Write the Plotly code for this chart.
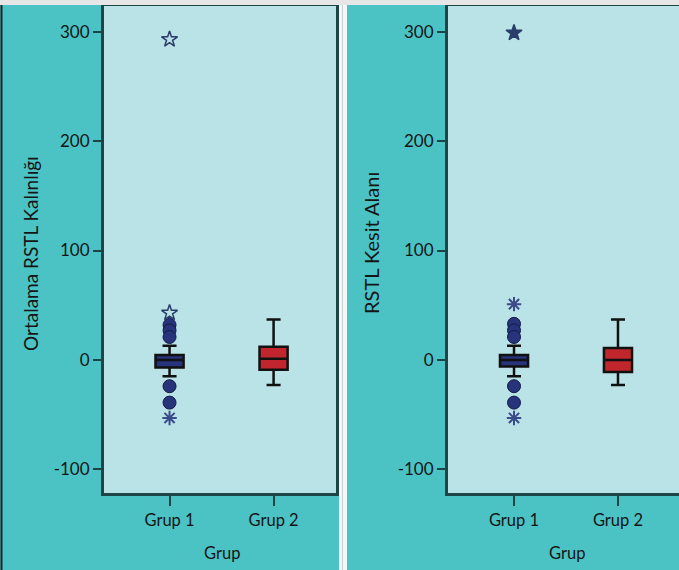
import plotly.graph_objects as go

W, H = 679, 570

groups = ["Grup 1", "Grup 2"]

# Left panel: Ortalama RSTL Kalınlığı
left_q1 = [-7, -9]
left_median = [0, 1]
left_q3 = [4.5, 12]
left_low = [-15, -23]
left_high = [13, 37]
left_circles = [32, 27, 21, -24, -39]
left_stars = [293, 43]
left_asterisks = [-53]

# Right panel: RSTL Kesit Alanı
right_q1 = [-6, -11]
right_median = [0, 0]
right_q3 = [4.5, 11]
right_low = [-15, -23]
right_high = [13, 37]
right_circles = [33, 27, 21, -24, -39]
right_stars = [299]
right_asterisks = [51, -53]

y_tickvals = [-100, 0, 100, 200, 300]
y_ticktext = ["-100", "0", "100", "200", "300"]

TEAL = "#4bc3c5"
PLOT_BG = "#b9e3e6"
AXIS = "#1d4447"
NAVY = "#27337a"
NAVY_DARK = "#141b45"
RED = "#c1262c"
TXT = "#151515"
FONT = "Lato"

fig = go.Figure()

box_colors = [NAVY, RED]


def add_panel(q1, med, q3, lo, hi, circles, stars, asterisks, xa, ya, star_filled):
    for i, g in enumerate(groups):
        fig.add_trace(go.Box(
            x=[g], q1=[q1[i]], median=[med[i]], q3=[q3[i]],
            lowerfence=[lo[i]], upperfence=[hi[i]],
            fillcolor=box_colors[i], line=dict(color="#111111", width=2.5),
            width=0.27, whiskerwidth=0.5, boxpoints=False,
            xaxis=xa, yaxis=ya, showlegend=False))
    fig.add_trace(go.Scatter(
        x=[groups[0]] * len(circles), y=circles, mode="markers",
        marker=dict(symbol="circle", size=13, color=NAVY,
                    line=dict(color=NAVY_DARK, width=1)),
        xaxis=xa, yaxis=ya, showlegend=False))
    fig.add_trace(go.Scatter(
        x=[groups[0]] * len(stars), y=stars, mode="markers",
        marker=dict(symbol="star" if star_filled else "star-open", size=12,
                    color="#2a3d6a", line=dict(color="#2a3d6a", width=1.5)),
        xaxis=xa, yaxis=ya, showlegend=False))
    fig.add_trace(go.Scatter(
        x=[groups[0]] * len(asterisks), y=asterisks, mode="markers",
        marker=dict(symbol="asterisk-open", size=12, color="#3a4a8a",
                    line=dict(color="#3a4a8a", width=2)),
        xaxis=xa, yaxis=ya, showlegend=False))


add_panel(left_q1, left_median, left_q3, left_low, left_high,
          left_circles, left_stars, left_asterisks, "x", "y", False)
add_panel(right_q1, right_median, right_q3, right_low, right_high,
          right_circles, right_stars, right_asterisks, "x2", "y2", True)

y_dom = [1 - 493 / H, 1 - 6 / H]
y_range = [-121.6, 323.5]

common_x = dict(type="category", categoryorder="array", categoryarray=groups,
                showline=True, linecolor=AXIS, linewidth=3, mirror=True,
                ticks="outside", ticklen=10, tickwidth=2, tickcolor=AXIS,
                showgrid=False, zeroline=False,
                tickfont=dict(family=FONT, size=16.5, color=TXT))
common_y = dict(range=y_range, tickvals=y_tickvals, ticktext=y_ticktext,
                showline=True, linecolor=AXIS, linewidth=3,
                ticks="outside", ticklen=8, tickwidth=2, tickcolor=AXIS,
                showgrid=False, zeroline=False,
                tickfont=dict(family=FONT, size=17, color=TXT))

fig.update_layout(
    width=W, height=H,
    margin=dict(l=0, r=0, t=0, b=0),
    paper_bgcolor=TEAL, plot_bgcolor=PLOT_BG,
    xaxis=dict(common_x, domain=[104 / W, 336 / W], range=[-0.63, 1.6], anchor="y"),
    yaxis=dict(common_y, domain=y_dom, anchor="x", mirror=True),
    xaxis2=dict(common_x, domain=[448 / W, 1.0], range=[-0.635, 1.587], anchor="y2"),
    yaxis2=dict(common_y, domain=y_dom, anchor="x2", mirror=False),
    showlegend=False,
)

fig.add_annotation(text="Ortalama RSTL Kalınlığı", textangle=-90,
                   x=30 / W, y=1 - 254 / H, xref="paper", yref="paper",
                   xanchor="center", yanchor="middle",
                   showarrow=False, font=dict(family=FONT, size=19, color=TXT))
fig.add_annotation(text="RSTL Kesit Alanı", textangle=-90,
                   x=371 / W, y=1 - 243 / H, xref="paper", yref="paper",
                   xanchor="center", yanchor="middle",
                   showarrow=False, font=dict(family=FONT, size=20, color=TXT))
grup_font = dict(family=FONT, size=16.5, color=TXT)
fig.add_annotation(text="Grup", x=222 / W, y=1 - 553 / H, xref="paper", yref="paper",
                   xanchor="center", yanchor="middle",
                   showarrow=False, font=grup_font)
fig.add_annotation(text="Grup", x=567 / W, y=1 - 553 / H, xref="paper", yref="paper",
                   xanchor="center", yanchor="middle",
                   showarrow=False, font=grup_font)

# decorative frame elements
fig.add_shape(type="rect", xref="paper", yref="paper", x0=0, x1=1, y0=1 - 5 / H, y1=1,
              fillcolor="#e6e6e6", line=dict(width=0), layer="above")
fig.add_shape(type="rect", xref="paper", yref="paper", x0=339 / W, x1=347 / W, y0=0, y1=1 - 5 / H,
              fillcolor="#f4f7f7", line=dict(width=0), layer="above")
fig.add_shape(type="line", xref="paper", yref="paper", x0=342.5 / W, x1=342.5 / W, y0=0, y1=1 - 5 / H,
              line=dict(color="#c8d0d0", width=1), layer="above")
fig.add_shape(type="line", xref="paper", yref="paper", x0=1.5 / W, x1=1.5 / W, y0=0, y1=1 - 5 / H,
              line=dict(color="#222222", width=2), layer="above")

fig.write_html("out.html", config={"displayModeBar": False},
               post_script="document.body.style.margin='0';document.body.style.overflow='hidden';")
